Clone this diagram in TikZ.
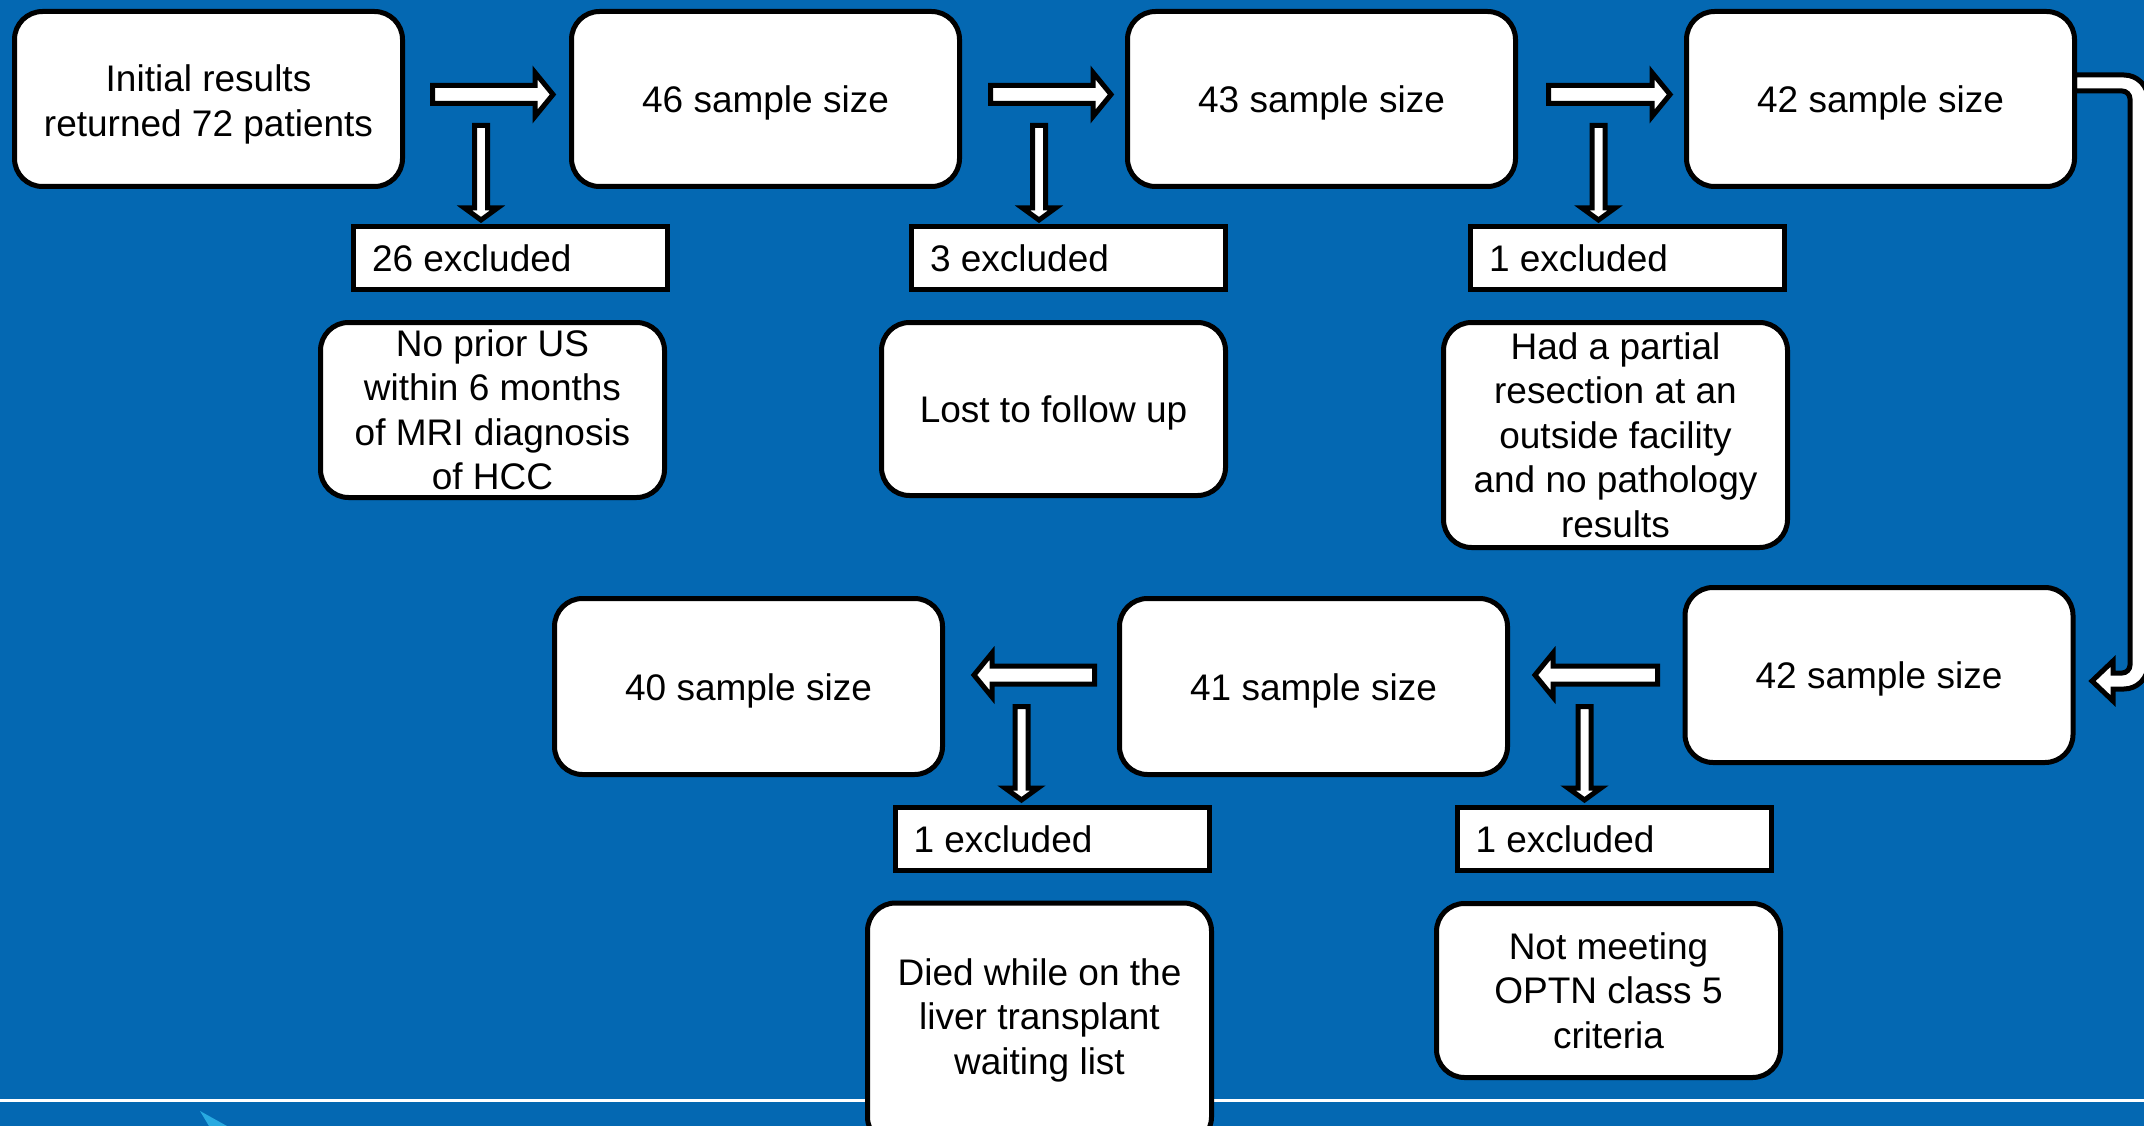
\documentclass[tikz,border=0pt]{standalone}
\usepackage{fontspec}
\setmainfont{Liberation Sans}
\definecolor{bgblue}{RGB}{4,104,178}
\definecolor{cyanish}{RGB}{40,170,225}
\newcommand\myfs{\fontsize{37}{44.5}\selectfont}
\newcommand\ml[1]{\begin{tabular}[t]{@{}c@{}}#1\end{tabular}}
\tikzset{
  shapeline/.style={draw=black, line width=5pt, fill=white},
  rbx/.style={shapeline, rounded corners=28pt, font=\myfs, inner sep=0pt},
  sizebox/.style={rbx, minimum width=388pt, minimum height=175pt, text height=27pt, text depth=0pt},
  reasonbox/.style={rbx, minimum width=344pt},
  exbox/.style={shapeline, font=\myfs, inner xsep=18.5pt, inner ysep=0pt, minimum height=63pt, text height=27pt, text depth=0pt},
  blk/.style={shapeline, line join=miter},
  harrow/.pic={\draw[blk] (0,-9) -- ({#1-18},-9) -- ({#1-18},-22) -- (#1,0) -- ({#1-18},22) -- ({#1-18},9) -- (0,9) -- cycle;},
  varrow/.pic={\draw[blk] (-6.5,0) -- (-6.5,{#1-12}) -- (-16.5,{#1-12}) -- (0,#1) -- (16.5,{#1-12}) -- (6.5,{#1-12}) -- (6.5,0) -- cycle;},
}
\begin{document}
\begin{tikzpicture}[x=1pt, y=-1pt]
\useasboundingbox (0,0) rectangle (2144,1126);
\fill[bgblue] (0,0) rectangle (2144,1126);
\clip (0,0) rectangle (2144,1126);
% footer line and small mark
\draw[white, line width=2.5pt] (0,1100.5) -- (2144,1100.5);
\fill[cyanish] (200,1111) -- (227,1126) -- (209,1126) -- cycle;
% block arrows, top row
\pic at (432.5,94.5) {harrow=120.5};
\pic at (990.5,94.5) {harrow=120.5};
\pic at (1548.5,94.5) {harrow=121.5};
\pic at (481,125.5) {varrow=94.5};
\pic at (1039,125.5) {varrow=94.5};
\pic at (1598.5,125.5) {varrow=94.5};
% block arrows, bottom row
\pic[xscale=-1] at (1657.5,675) {harrow=122.5};
\pic[xscale=-1] at (1094.5,675) {harrow=120.5};
\pic at (1021.5,706.5) {varrow=93.5};
\pic at (1584.5,706.5) {varrow=93.5};
% U-turn arrow on the right
\draw[blk] (2074.5,75) -- (2124,75) arc[start angle=-90,end angle=0,radius=24]
  -- (2148,665) arc[start angle=0,end angle=90,radius=24]
  -- (2113,689) -- (2113,701) -- (2092,681) -- (2113,661) -- (2113,673)
  -- (2122,673) arc[start angle=90,end angle=0,radius=8]
  -- (2130,99) arc[start angle=0,end angle=-90,radius=8]
  -- (2074.5,91) -- cycle;
% top row boxes
\node[sizebox, text height=30pt, text depth=44pt] (b1) at (208.5,99) {\ml{Initial results\\returned 72 patients}};
\node[sizebox] (b2) at (765.5,99) {46 sample size};
\node[sizebox] (b3) at (1321.5,99) {43 sample size};
\node[sizebox] (b4) at (1880.5,99) {42 sample size};
\node[exbox] (e1) at (510.5,258) {\makebox[277pt][l]{26 excluded}};
\node[exbox] (e2) at (1068.5,258) {\makebox[277pt][l]{3 excluded}};
\node[exbox] (e3) at (1627.5,258) {\makebox[277pt][l]{1 excluded}};
\node[reasonbox, minimum height=175pt, text height=30pt, text depth=138pt] (r1) at (492.5,410) {\ml{No prior US\\within 6 months\\of MRI diagnosis\\of HCC}};
\node[reasonbox, minimum height=173pt, text height=27pt, text depth=0pt] (r2) at (1053.5,409) {Lost to follow up};
\node[reasonbox, minimum height=225pt, text height=30pt, text depth=182pt] (r3) at (1615.5,435) {\ml{Had a partial\\resection at an\\outside facility\\and no pathology\\results}};
% bottom row boxes
\node[sizebox] (c42) at (1879,675) {42 sample size};
\node[sizebox, minimum height=176pt] (c41) at (1313.5,686.5) {41 sample size};
\node[sizebox, minimum height=176pt] (c40) at (748.5,686.5) {40 sample size};
\node[exbox] (f1) at (1052,838.5) {\makebox[277pt][l]{1 excluded}};
\node[exbox] (f2) at (1614,838.5) {\makebox[277pt][l]{1 excluded}};
\node[reasonbox, minimum height=242pt, text height=30pt, text depth=108pt] (g1) at (1039.5,1024) {\ml{Died while on the\\liver transplant\\waiting list}};
\node[reasonbox, minimum height=174pt, text height=30pt, text depth=93pt] (g2) at (1608.5,990.5) {\ml{Not meeting\\OPTN class 5\\criteria}};
\end{tikzpicture}
\end{document}
